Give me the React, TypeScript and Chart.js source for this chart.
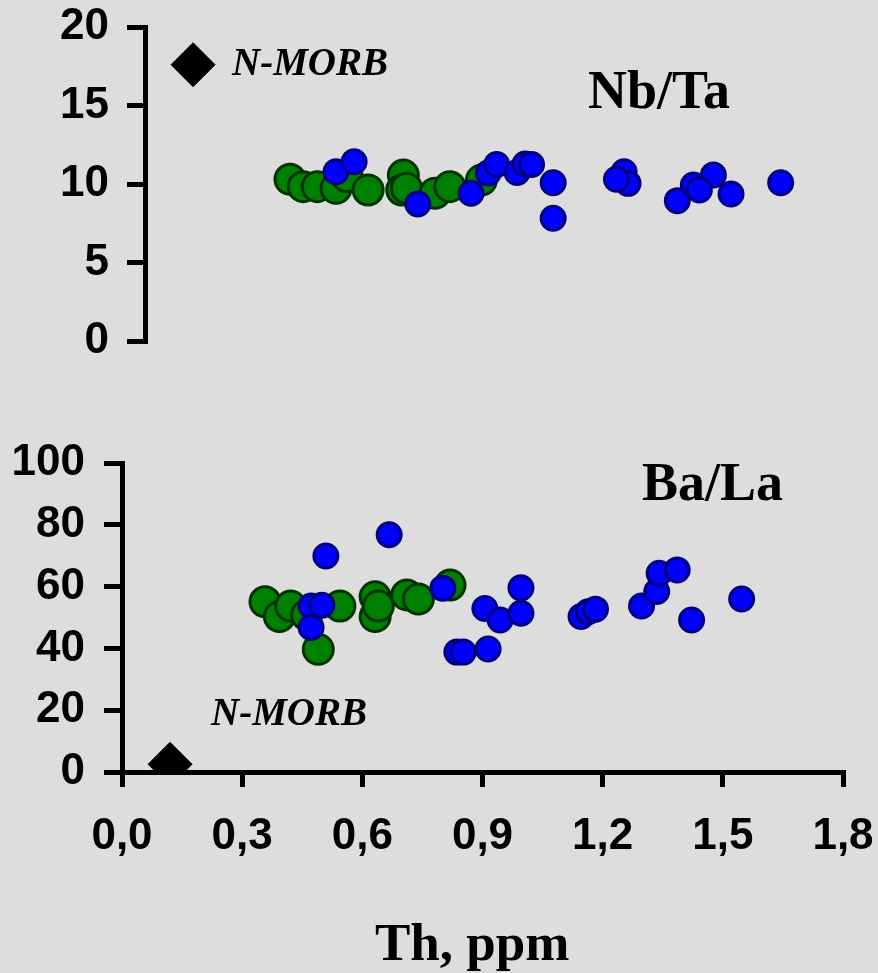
import React, { useEffect, useRef } from 'react';
import { Chart, registerables } from 'chart.js';

Chart.register(...registerables);

// ---------- Data ----------
// Top panel: Nb/Ta vs Th (ppm)
const NBTA_GREEN_TH = [0.362, 0.395, 0.43, 0.477, 0.505, 0.557, 0.645, 0.641, 0.653, 0.724, 0.761, 0.84];
const NBTA_GREEN = [10.3, 9.83, 9.83, 9.73, 10.46, 9.62, 10.57, 9.62, 9.73, 9.41, 9.83, 10.25];

const NBTA_BLUE_TH = [0.477, 0.522, 0.681, 0.814, 0.857, 0.878, 0.929, 0.949, 0.965, 1.019, 1.019, 1.196, 1.206, 1.177, 1.329, 1.369, 1.419, 1.384, 1.463, 1.587];
const NBTA_BLUE = [10.78, 11.42, 8.73, 9.41, 10.7, 11.24, 10.73, 11.27, 11.24, 10.08, 7.82, 10.78, 10.04, 10.3, 8.94, 9.94, 10.57, 9.62, 9.36, 10.08];

// Bottom panel: Ba/La vs Th (ppm)
const BALA_GREEN_TH = [0.357, 0.393, 0.421, 0.461, 0.49, 0.544, 0.632, 0.632, 0.64, 0.711, 0.74, 0.819];
const BALA_GREEN = [55.1, 50.3, 53.7, 50.8, 39.7, 53.7, 56.7, 50.3, 53.7, 57.3, 56.0, 60.5];

const BALA_BLUE_TH = [0.509, 0.667, 0.472, 0.499, 0.472, 0.801, 0.836, 0.852, 0.914, 0.906, 0.944, 0.996, 0.996, 1.146, 1.164, 1.182, 1.297, 1.335, 1.341, 1.386, 1.422, 1.547];
const BALA_BLUE = [69.9, 76.8, 53.7, 54.0, 46.8, 59.5, 38.8, 38.8, 39.8, 52.9, 49.2, 59.6, 51.4, 50.3, 51.9, 52.7, 53.7, 58.4, 64.3, 65.4, 49.2, 56.0];

// N-MORB reference
const NMORB_TH = 0.12;
const NMORB_NBTA = 17.6;
const NMORB_BALA = 2.5;

// Ticks
const X_TICKS = [0, 0.3, 0.6, 0.9, 1.2, 1.5, 1.8];
const NBTA_TICKS = [0, 5, 10, 15, 20];
const BALA_TICKS = [0, 20, 40, 60, 80, 100];

// ---------- Styles ----------
const W = 878;
const H = 973;
const BG = '#dddddd';
const SANS = '"Liberation Sans", Arial, sans-serif';
const SERIF = '"Liberation Serif", "Times New Roman", serif';

const zip = (xs: number[], ys: number[]) => xs.map((x, i) => ({ x, y: ys[i] }));

type Label = { text: string; x: number; y: number; font: string };

const textPlugin = (labels: Label[]) => ({
  id: 'textLabels',
  afterDraw(chart: any) {
    const ctx = chart.ctx;
    ctx.save();
    ctx.fillStyle = '#000';
    ctx.textAlign = 'left';
    ctx.textBaseline = 'alphabetic';
    labels.forEach((l) => {
      ctx.font = l.font;
      ctx.fillText(l.text, l.x, l.y);
    });
    ctx.restore();
  },
});

const datasets = (greenTh: number[], green: number[], blueTh: number[], blue: number[], morb: number) => [
  {
    label: 'N-MORB',
    data: [{ x: NMORB_TH, y: morb }],
    pointStyle: 'rectRot',
    pointRadius: 22,
    backgroundColor: '#000000',
    borderColor: '#000000',
    borderWidth: 1,
    order: 0,
  },
  {
    label: 'blue',
    data: zip(blueTh, blue),
    pointStyle: 'circle',
    pointRadius: 12,
    backgroundColor: '#0000ff',
    borderColor: '#000080',
    borderWidth: 3,
    order: 1,
  },
  {
    label: 'green',
    data: zip(greenTh, green),
    pointStyle: 'circle',
    pointRadius: 15,
    backgroundColor: '#008000',
    borderColor: '#003300',
    borderWidth: 3,
    order: 2,
  },
];

const tickFont = { family: SANS, size: 44, weight: 'bold' as const };

const noPad = (s: any) => {
  s.paddingTop = 0;
  s.paddingBottom = 0;
  s.paddingLeft = 0;
  s.paddingRight = 0;
};

const yAxis = (min: number, max: number, ticks: number[], width: number, pad: number) => ({
  type: 'linear' as const,
  min,
  max,
  afterFit: (s: any) => {
    s.width = width;
    noPad(s);
  },
  afterBuildTicks: (s: any) => {
    s.ticks = ticks.map((v) => ({ value: v }));
  },
  grid: { drawOnChartArea: false, drawTicks: true, tickLength: 18, lineWidth: 5, color: '#000' },
  border: { display: true, width: 5, color: '#000' },
  ticks: { color: '#000', font: tickFont, padding: pad },
});

export default function App() {
  const topRef = useRef<HTMLCanvasElement | null>(null);
  const botRef = useRef<HTMLCanvasElement | null>(null);

  useEffect(() => {
    const top = new Chart(topRef.current as HTMLCanvasElement, {
      type: 'scatter',
      data: { datasets: datasets(NBTA_GREEN_TH, NBTA_GREEN, NBTA_BLUE_TH, NBTA_BLUE, NMORB_NBTA) as any },
      options: {
        animation: false,
        responsive: false,
        events: [],
        layout: { autoPadding: false, padding: { top: 27, bottom: H - 341, left: 0, right: W - 866 } },
        plugins: { legend: { display: false }, tooltip: { enabled: false } },
        scales: {
          x: { type: 'linear', min: 0, max: 1.8, display: false, afterFit: noPad } as any,
          y: yAxis(0, 20, NBTA_TICKS, 145, 18) as any,
        },
      },
      plugins: [
        textPlugin([
          { text: 'N-MORB', x: 232, y: 75, font: `italic bold 39px ${SERIF}` },
          { text: 'Nb/Ta', x: 588, y: 108, font: `bold 54px ${SERIF}` },
        ]),
      ],
    });

    const bot = new Chart(botRef.current as HTMLCanvasElement, {
      type: 'scatter',
      data: { datasets: datasets(BALA_GREEN_TH, BALA_GREEN, BALA_BLUE_TH, BALA_BLUE, NMORB_BALA) as any },
      options: {
        animation: false,
        responsive: false,
        events: [],
        layout: { autoPadding: false, padding: { top: 463, bottom: 0, left: 0, right: W - 843 } },
        plugins: { legend: { display: false }, tooltip: { enabled: false } },
        scales: {
          x: {
            type: 'linear',
            min: 0,
            max: 1.8,
            afterFit: (s: any) => {
              s.height = H - 772;
              noPad(s);
            },
            afterBuildTicks: (s: any) => {
              s.ticks = X_TICKS.map((v) => ({ value: v }));
            },
            grid: { drawOnChartArea: false, drawTicks: true, tickLength: 15, lineWidth: 5, color: '#000' },
            border: { display: true, width: 5, color: '#000' },
            ticks: {
              color: '#000',
              font: tickFont,
              padding: 23,
              maxRotation: 0,
              autoSkip: false,
              callback: (v: any) => Number(v).toFixed(1).replace('.', ','),
            },
          },
          y: yAxis(0, 100, BALA_TICKS, 122, 19) as any,
        },
      },
      plugins: [
        textPlugin([
          { text: 'N-MORB', x: 211, y: 725, font: `italic bold 39px ${SERIF}` },
          { text: 'Ba/La', x: 642, y: 500, font: `bold 54px ${SERIF}` },
          { text: 'Th, ppm', x: 375, y: 960, font: `bold 53px ${SERIF}` },
        ]),
      ],
    });

    return () => {
      top.destroy();
      bot.destroy();
    };
  }, []);

  const canvasStyle: React.CSSProperties = {
    position: 'absolute',
    left: 0,
    top: 0,
    width: W,
    height: H,
  };

  return (
    <div style={{ position: 'fixed', left: 0, top: 0, width: W, height: H, background: BG, overflow: 'hidden' }}>
      <canvas ref={topRef} width={W} height={H} style={canvasStyle} />
      <canvas ref={botRef} width={W} height={H} style={canvasStyle} />
    </div>
  );
}
